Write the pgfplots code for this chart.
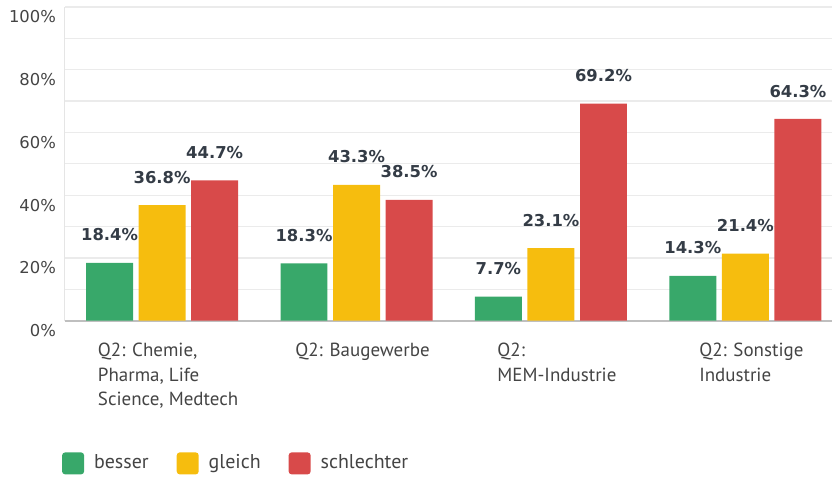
\documentclass[border=0pt]{standalone}
\usepackage{pgfplots}
\pgfplotsset{compat=1.18}
\usepackage{fontspec}
\setmainfont{DejaVu Sans}
\newfontfamily\ptsans{PT Sans}
\definecolor{cgreen}{RGB}{56,168,106}
\definecolor{cyellow}{RGB}{246,189,14}
\definecolor{cred}{RGB}{216,74,74}
\definecolor{vallab}{RGB}{52,60,70}
\definecolor{ticklab}{RGB}{68,68,68}
\begin{document}
\begin{tikzpicture}
\begin{axis}[
  scale only axis, width=384pt, height=157pt,
  ybar=2.8pt, bar width=23.5pt,
  xmin=-0.5, xmax=3.446, ymin=0, ymax=100,
  xtick={0,1,2,3},
  xticklabels={{Q2: Chemie,\\Pharma, Life\\Science, Medtech},{Q2: Baugewerbe},{Q2:\\MEM-Industrie},{Q2: Sonstige\\Industrie}},
  ytick={0,20,40,60,80,100}, minor ytick={10,30,50,70,90},
  yticklabel={\pgfmathprintnumber{\tick}\%},
  /pgf/number format/assume math mode=true,
  ymajorgrids, yminorgrids,
  major grid style={draw=black!8, line width=0.6pt},
  minor grid style={draw=black!8, line width=0.6pt},
  major tick length=0, minor tick length=0,
  axis x line*=bottom, axis y line*=left,
  x axis line style={draw=black!25, line width=0.9pt, -},
  y axis line style={draw=black!10, line width=0.6pt, -},
  yticklabel style={font=\fontsize{8.2}{10}\selectfont, text=ticklab, xshift=-1pt, yshift=-5pt},
  xticklabel style={font=\ptsans\fontsize{9.5}{12.4}\selectfont, text=ticklab, align=left, anchor=north, xshift=3pt, yshift=-7.5pt},
  nodes near coords={\pgfmathprintnumber[fixed,precision=1,fixed zerofill]{\pgfplotspointmeta}\%},
  every node near coord/.append style={font=\bfseries\fontsize{8.2}{10}\selectfont, text=vallab, anchor=base, yshift=11pt},
  clip=false,
  legend columns=3,
  legend cell align=left,
  legend style={at={(axis description cs:-0.012,-0.455)}, anchor=west, draw=none, fill=none,
    font=\ptsans\fontsize{10}{12}\selectfont, text=ticklab,
    /tikz/every odd column/.append style={column sep=3pt},
    /tikz/every even column/.append style={column sep=12pt}},
  legend image code/.code={\fill[#1, rounded corners=1.5pt] (0pt,-5.5pt) rectangle (11pt,5.5pt);},
]
\addplot[fill=cgreen, draw=none] coordinates {(0,18.4) (1,18.3) (2,7.7) (3,14.3)};
\addlegendentry{besser}
\addplot[fill=cyellow, draw=none] coordinates {(0,36.8) (1,43.3) (2,23.1) (3,21.4)};
\addlegendentry{gleich}
\addplot[fill=cred, draw=none] coordinates {(0,44.7) (1,38.5) (2,69.2) (3,64.3)};
\addlegendentry{schlechter}
\coordinate (bbA) at (axis description cs:-0.0846,1.0223);
\coordinate (bbB) at (axis description cs:1.0,-0.4968);
\end{axis}
\path (bbA) rectangle (bbB);
\end{tikzpicture}
\end{document}
